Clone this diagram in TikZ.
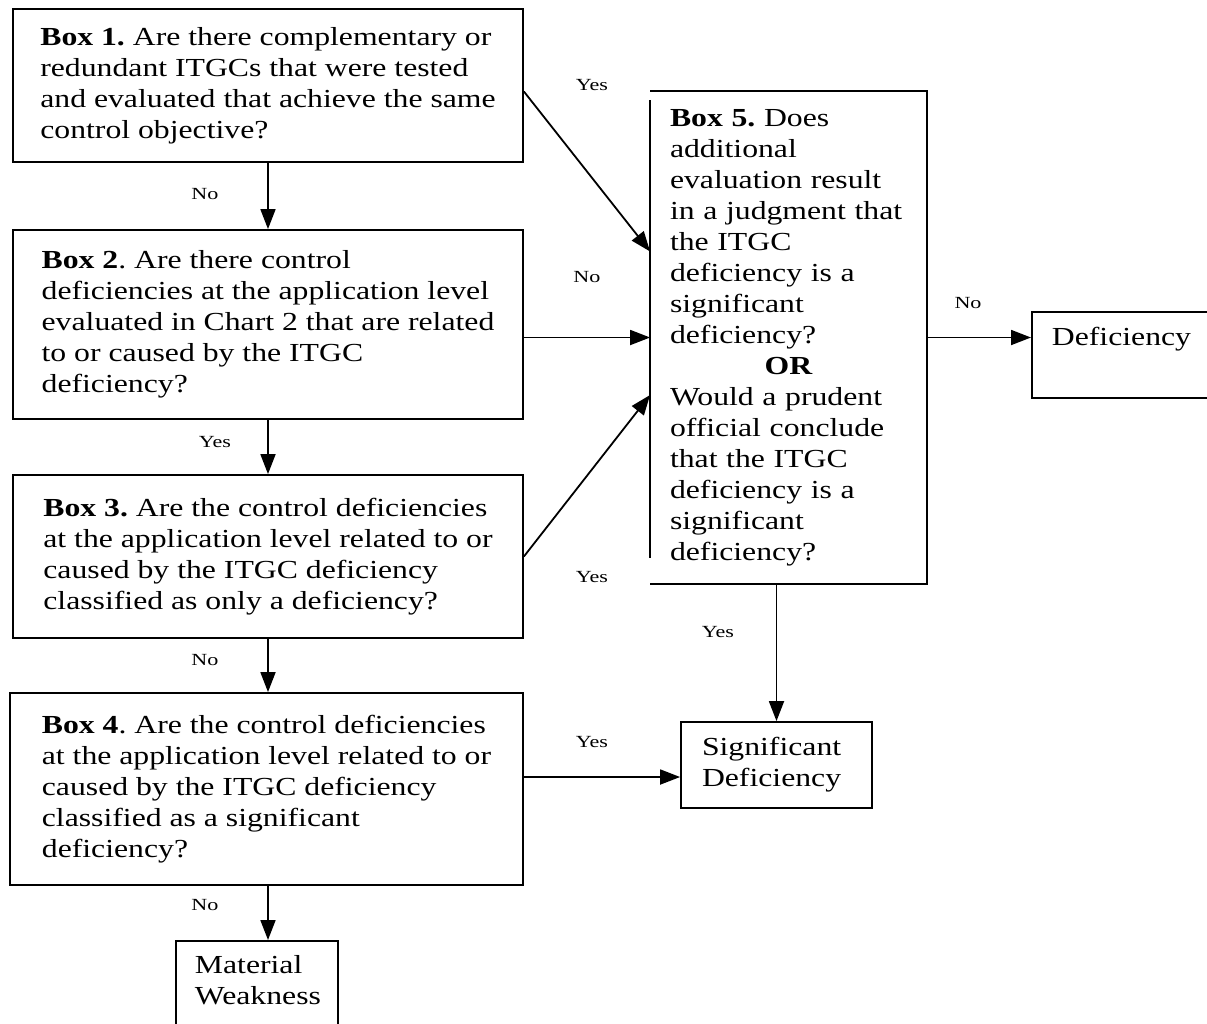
\documentclass[tikz,border=0pt]{standalone}
\usepackage{fontspec}
\setmainfont{Liberation Serif}[FakeStretch=1.22]
\newfontfamily\lblfont{Liberation Serif}[FakeStretch=1.3]
\usetikzlibrary{arrows.meta}
\frenchspacing

\tikzset{
	qbox/.style={draw,line width=0.9pt,align=left,inner sep=0pt,font=\fontsize{13}{15.5}\selectfont},
	endbox/.style={qbox,inner xsep=10pt,inner ysep=7.5pt},
	lbl/.style={inner sep=0pt,font=\lblfont\fontsize{8.5}{10}\selectfont},
	flow/.style={line width=0.9pt,-{Triangle[length=10pt,width=7.5pt]}}
}

\begin{document}
\begin{tikzpicture}[x=0.5pt,y=-0.5pt]
	\clip (0,0) rectangle (1207,1024);
	% question boxes
	\node[qbox,minimum width=255pt,minimum height=76.5pt] (b1) at (268,85.5)
		{\textbf{Box 1.} Are there complementary or\\ redundant ITGCs that were tested\\ and evaluated that achieve the same\\ control objective?};
	\node[qbox,minimum width=255pt,minimum height=94.5pt] (b2) at (268,324.5)
		{\textbf{Box 2}. Are there control\\ deficiencies at the application level\\ evaluated in Chart 2 that are related\\ to or caused by the ITGC\\ deficiency?};
	\node[qbox,minimum width=255pt,minimum height=81.5pt] (b3) at (268,556.5)
		{\textbf{Box 3.} Are the control deficiencies\\ at the application level related to or\\ caused by the ITGC deficiency\\ classified as only a deficiency?};
	\node[qbox,minimum width=256.5pt,minimum height=96pt] (b4) at (266.5,789)
		{\textbf{Box 4}. Are the control deficiencies\\ at the application level related to or\\ caused by the ITGC deficiency\\ classified as a significant\\ deficiency?};
	\node[qbox,draw=none,minimum width=137.5pt,minimum height=245.5pt,text width=118.5pt] (b5) at (788.5,337.5)
		{\textbf{Box 5.} Does\\ additional\\ evaluation result\\ in a judgment that\\ the ITGC\\ deficiency is a\\ significant\\ deficiency?\\ \makebox[\linewidth]{\textbf{OR}}\\ Would a prudent\\ official conclude\\ that the ITGC\\ deficiency is a\\ significant\\ deficiency?};
	\draw[line width=0.9pt] (b5.north west) -- (b5.north east) -- (b5.south east) -- (b5.south west);
	\draw[line width=0.9pt] ([yshift=-4.5pt]b5.north west) -- ([yshift=13pt]b5.south west);
	% outcomes
	\node[endbox,anchor=north west,text width=80pt,text depth=19pt] (def) at (1031,311) {Deficiency};
	\node[qbox,inner xsep=10.5pt,minimum width=95.5pt,minimum height=43pt,text width=74.5pt] (sd) at (776.5,765)
		{Significant\\ Deficiency};
	\node[endbox,inner xsep=9.5pt,anchor=north west,text width=62pt,text depth=30pt] (mw) at (175,940)
		{Material\\ Weakness};
	% connectors
	\draw[flow] (b1) -- (b2);
	\draw[flow] (b2) -- (b3);
	\draw[flow] (b3) -- (b3 |- b4.north);
	\draw[flow] (b3.south |- b4.south) -- (b3.south |- mw.north);
	\draw[flow] ([yshift=-3pt]b1.east) -- ([yshift=43pt]b5.west);
	\draw[flow] (b5.west -| b2.east) -- (b5.west);
	\draw[flow] (b3.east) -- ([yshift=-28.75pt]b5.west);
	\draw[flow] ([yshift=-6pt]sd.west -| b4.east) -- ([yshift=-6pt]sd.west);
	\draw[flow] (b5.south -| sd.north) -- (sd.north);
	\draw[flow] (b5.east) -- (b5.east -| def.west);
	% labels
	\node[lbl] (l12) at (205,194) {No};
	\node[lbl] (l23) at (215,442) {Yes};
	\node[lbl] (l34) at (205,660) {No};
	\node[lbl] (l4m) at (205,905) {No};
	\node[lbl] (l15) at (592,85) {Yes};
	\node[lbl] (l25) at (587,277) {No};
	\node[lbl] (l35) at (592,577) {Yes};
	\node[lbl] (l4s) at (592,742) {Yes};
	\node[lbl] (l5s) at (718,632) {Yes};
	\node[lbl] (l5d) at (968,303) {No};
\end{tikzpicture}
\end{document}
